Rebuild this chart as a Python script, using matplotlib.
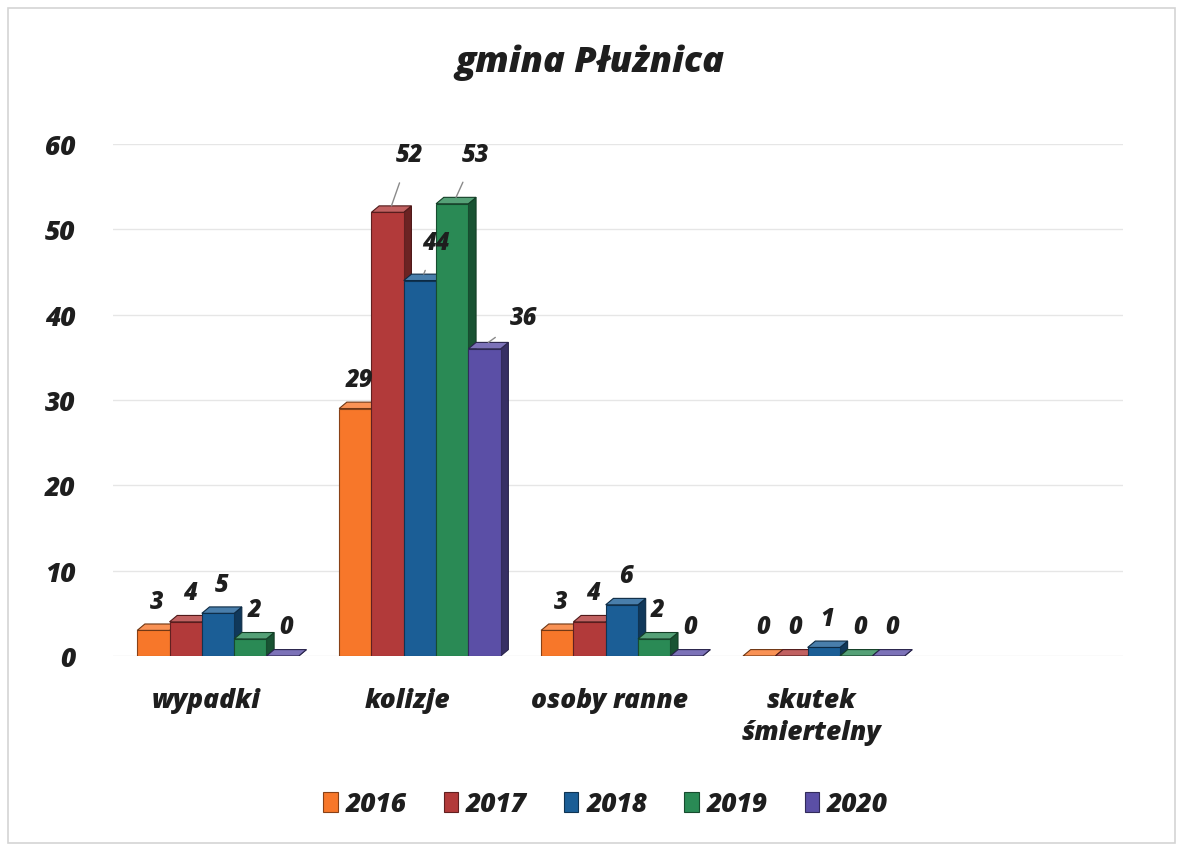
import matplotlib

matplotlib.use("Agg")
import matplotlib.pyplot as plt
from matplotlib.colors import to_rgb
from matplotlib.patches import Polygon, Rectangle

categories = ["wypadki", "kolizje", "osoby ranne", "skutek\nśmiertelny"]
years = ["2016", "2017", "2018", "2019", "2020"]
values = {
    "2016": [3, 29, 3, 0],
    "2017": [4, 52, 4, 0],
    "2018": [5, 44, 6, 1],
    "2019": [2, 53, 2, 0],
    "2020": [0, 36, 0, 0],
}
colors = ["#F7772A", "#B23A3A", "#1B5E96", "#2A8A55", "#5B4FA6"]
y_ticks = [0, 10, 20, 30, 40, 50, 60]

FONT = ["Open Sans", "DejaVu Sans"]
INK = "#1e1e1e"
TXT = dict(family=FONT, weight=800, style="italic", color=INK)

W = 0.16
DX, DY = 0.038, 0.75  # pseudo 3D depth in data units

# leader-line labels on the tall group (offset in points)
leader = {(1, 1): (13, 37), (1, 2): (9, 23), (1, 3): (14, 31), (1, 4): (25, 18)}


def shade(color, f):
    r, g, b = to_rgb(color)
    return (r * f, g * f, b * f)


def tint(color, f):
    r, g, b = to_rgb(color)
    return (r + (1 - r) * f, g + (1 - g) * f, b + (1 - b) * f)


fig = plt.figure(figsize=(11.83, 8.53), dpi=100)
fig.patches.append(
    Rectangle((0.007, 0.01), 0.986, 0.98, transform=fig.transFigure,
              fill=False, edgecolor="#d4d4d4", linewidth=1.2)
)
ax = fig.add_axes([0.0955, 0.2298, 0.8535, 0.6002])
ax.set_xlim(-0.5, 4.5)
ax.set_ylim(0, 60)

for j, (year, color) in enumerate(zip(years, colors)):
    xs = [i + (j - 2) * W + 0.02 for i in range(len(categories))]
    vals = values[year]
    ax.bar(xs, vals, width=W, color=color, edgecolor=shade(color, 0.55),
           linewidth=0.8, zorder=3, label=year)
    for i, (x, v) in enumerate(zip(xs, vals)):
        x0, x1 = x - W / 2, x + W / 2
        top = Polygon([(x0, v), (x1, v), (x1 + DX, v + DY), (x0 + DX, v + DY)],
                      closed=True, facecolor=tint(color, 0.2),
                      edgecolor=shade(color, 0.45), linewidth=0.8, zorder=3)
        side = Polygon([(x1, 0), (x1 + DX, DY), (x1 + DX, v + DY), (x1, v)],
                       closed=True, facecolor=shade(color, 0.6),
                       edgecolor=shade(color, 0.45), linewidth=0.8, zorder=2.9)
        ax.add_patch(side)
        ax.add_patch(top)
        if (i, j) in leader:
            ax.annotate(str(v), xy=(x + DX / 2, v + DY), xytext=leader[(i, j)],
                        textcoords="offset points", ha="center", va="center",
                        fontsize=17, zorder=5,
                        arrowprops=dict(arrowstyle="-", color="#8a8a8a", lw=1.0,
                                        shrinkA=10, shrinkB=0),
                        **TXT)
        else:
            ax.annotate(str(v), xy=(x + DX / 2, v), xytext=(0, 21),
                        textcoords="offset points", ha="center", va="center",
                        fontsize=17, zorder=5, **TXT)

ax.set_yticks(y_ticks)
ax.set_yticklabels([str(t) for t in y_ticks], fontsize=19, **TXT)
ax.set_xticks([i - 0.04 for i in range(len(categories))])
ax.set_xticklabels(categories, fontsize=19, va="top", linespacing=1.3, **TXT)
ax.tick_params(axis="y", length=0, pad=27)
ax.tick_params(axis="x", length=0, pad=22)
ax.grid(axis="y", color="#e6e6e6", linewidth=1.0, zorder=0)
for s in ax.spines.values():
    s.set_visible(False)

fig.text(0.499, 0.927, "gmina Płużnica", ha="center", va="center",
         fontsize=26, **TXT)

leg = fig.legend(loc="center", bbox_to_anchor=(0.512, 0.056), ncol=5, frameon=False,
                 handlelength=0.55, handleheight=0.8, handletextpad=0.3,
                 columnspacing=1.4, prop=dict(family=FONT, weight=800,
                                              style="italic", size=19))
for t in leg.get_texts():
    t.set_color(INK)

fig.savefig("out.png", dpi=100)
